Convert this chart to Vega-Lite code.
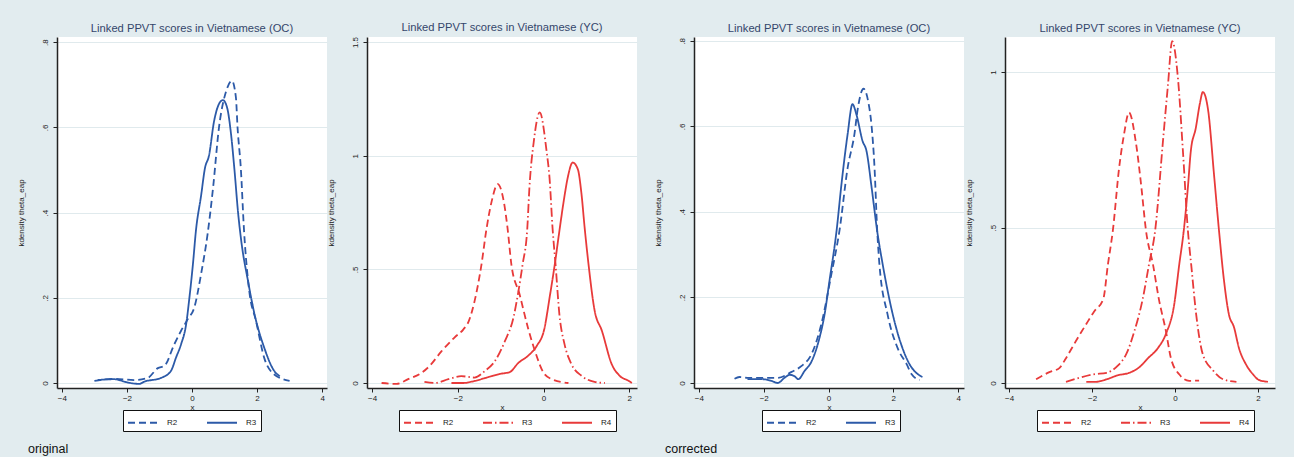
{
  "$schema": "https://vega.github.io/schema/vega-lite/v6.json",
  "background": "#e2ecef",
  "padding": {"left": 17, "top": 22, "right": 20, "bottom": 4},
  "config": {
    "view": {"fill": "white", "stroke": null},
    "font": "Liberation Sans",
    "title": {"font": "Liberation Sans", "fontSize": 11.2, "fontWeight": "normal", "color": "#34466b", "offset": 3},
    "axis": {"labelFont": "Liberation Sans", "titleFont": "Liberation Sans", "labelFontSize": 8, "titleFontSize": 8, "titleFontWeight": "normal", "labelColor": "#222", "titleColor": "#222", "domainColor": "#222", "domainWidth": 1.5, "tickColor": "#222", "tickSize": 4, "tickWidth": 1, "grid": false},
    "axisY": {"grid": true, "gridColor": "#e0eaed", "gridWidth": 1, "labelAngle": -90, "labelAlign": "center", "labelBaseline": "bottom", "labelPadding": 4, "titlePadding": 16},
    "axisX": {"labelPadding": 2, "titlePadding": 1},
    "legend": {"orient": "none", "direction": "horizontal", "title": null, "symbolType": "M-1,0L3,0", "symbolSize": 225, "symbolStrokeWidth": 1.8, "labelFont": "Liberation Sans", "labelFontSize": 8, "labelColor": "#222", "labelOffset": 23, "columnPadding": 25, "padding": 4, "strokeColor": "#111", "fillColor": "white", "labelLimit": 60}
  },
  "datasets": {
    "p1": [
      {"x": -3.0, "y": 0.005, "s": "R2"}, {"x": -2.4, "y": 0.01, "s": "R2"}, {"x": -1.78, "y": 0.007, "s": "R2"}, {"x": -1.36, "y": 0.012, "s": "R2"}, {"x": -1.05, "y": 0.035, "s": "R2"}, {"x": -0.85, "y": 0.04, "s": "R2"}, {"x": -0.55, "y": 0.09, "s": "R2"}, {"x": -0.34, "y": 0.122, "s": "R2"}, {"x": -0.13, "y": 0.15, "s": "R2"}, {"x": 0.07, "y": 0.177, "s": "R2"}, {"x": 0.28, "y": 0.256, "s": "R2"}, {"x": 0.48, "y": 0.35, "s": "R2"}, {"x": 0.65, "y": 0.46, "s": "R2"}, {"x": 0.83, "y": 0.6, "s": "R2"}, {"x": 1.05, "y": 0.685, "s": "R2"}, {"x": 1.23, "y": 0.709, "s": "R2"}, {"x": 1.35, "y": 0.67, "s": "R2"}, {"x": 1.4, "y": 0.6, "s": "R2"}, {"x": 1.5, "y": 0.505, "s": "R2"}, {"x": 1.6, "y": 0.357, "s": "R2"}, {"x": 1.76, "y": 0.216, "s": "R2"}, {"x": 1.97, "y": 0.145, "s": "R2"}, {"x": 2.22, "y": 0.059, "s": "R2"}, {"x": 2.53, "y": 0.02, "s": "R2"}, {"x": 3.0, "y": 0.005, "s": "R2"},
      {"x": -2.9, "y": 0.007, "s": "R3"}, {"x": -2.4, "y": 0.009, "s": "R3"}, {"x": -1.97, "y": 0.001, "s": "R3"}, {"x": -1.62, "y": -0.002, "s": "R3"}, {"x": -1.47, "y": 0.003, "s": "R3"}, {"x": -0.95, "y": 0.012, "s": "R3"}, {"x": -0.65, "y": 0.028, "s": "R3"}, {"x": -0.49, "y": 0.06, "s": "R3"}, {"x": -0.34, "y": 0.09, "s": "R3"}, {"x": -0.18, "y": 0.138, "s": "R3"}, {"x": -0.08, "y": 0.2, "s": "R3"}, {"x": 0.03, "y": 0.28, "s": "R3"}, {"x": 0.12, "y": 0.357, "s": "R3"}, {"x": 0.28, "y": 0.44, "s": "R3"}, {"x": 0.4, "y": 0.505, "s": "R3"}, {"x": 0.52, "y": 0.533, "s": "R3"}, {"x": 0.68, "y": 0.615, "s": "R3"}, {"x": 0.83, "y": 0.655, "s": "R3"}, {"x": 0.95, "y": 0.664, "s": "R3"}, {"x": 1.08, "y": 0.646, "s": "R3"}, {"x": 1.2, "y": 0.584, "s": "R3"}, {"x": 1.3, "y": 0.505, "s": "R3"}, {"x": 1.42, "y": 0.397, "s": "R3"}, {"x": 1.52, "y": 0.33, "s": "R3"}, {"x": 1.72, "y": 0.24, "s": "R3"}, {"x": 1.92, "y": 0.162, "s": "R3"}, {"x": 2.22, "y": 0.083, "s": "R3"}, {"x": 2.53, "y": 0.028, "s": "R3"}, {"x": 2.7, "y": 0.016, "s": "R3"}
    ],
    "p2": [
      {"x": -3.78, "y": 0.0, "s": "R2"}, {"x": -3.43, "y": -0.004, "s": "R2"}, {"x": -3.16, "y": 0.017, "s": "R2"}, {"x": -2.85, "y": 0.044, "s": "R2"}, {"x": -2.66, "y": 0.075, "s": "R2"}, {"x": -2.38, "y": 0.14, "s": "R2"}, {"x": -2.08, "y": 0.2, "s": "R2"}, {"x": -1.87, "y": 0.236, "s": "R2"}, {"x": -1.75, "y": 0.27, "s": "R2"}, {"x": -1.61, "y": 0.36, "s": "R2"}, {"x": -1.45, "y": 0.52, "s": "R2"}, {"x": -1.33, "y": 0.68, "s": "R2"}, {"x": -1.21, "y": 0.8, "s": "R2"}, {"x": -1.07, "y": 0.875, "s": "R2"}, {"x": -0.93, "y": 0.8, "s": "R2"}, {"x": -0.84, "y": 0.68, "s": "R2"}, {"x": -0.75, "y": 0.52, "s": "R2"}, {"x": -0.56, "y": 0.39, "s": "R2"}, {"x": -0.36, "y": 0.24, "s": "R2"}, {"x": -0.2, "y": 0.14, "s": "R2"}, {"x": 0.0, "y": 0.045, "s": "R2"}, {"x": 0.19, "y": 0.017, "s": "R2"}, {"x": 0.58, "y": 0.0, "s": "R2"},
      {"x": -2.78, "y": 0.005, "s": "R3"}, {"x": -2.54, "y": 0.0, "s": "R3"}, {"x": -2.22, "y": 0.017, "s": "R3"}, {"x": -1.92, "y": 0.03, "s": "R3"}, {"x": -1.61, "y": 0.024, "s": "R3"}, {"x": -1.37, "y": 0.053, "s": "R3"}, {"x": -1.14, "y": 0.095, "s": "R3"}, {"x": -0.9, "y": 0.185, "s": "R3"}, {"x": -0.7, "y": 0.29, "s": "R3"}, {"x": -0.59, "y": 0.4, "s": "R3"}, {"x": -0.49, "y": 0.52, "s": "R3"}, {"x": -0.38, "y": 0.68, "s": "R3"}, {"x": -0.33, "y": 0.86, "s": "R3"}, {"x": -0.23, "y": 1.06, "s": "R3"}, {"x": -0.09, "y": 1.19, "s": "R3"}, {"x": 0.07, "y": 1.02, "s": "R3"}, {"x": 0.14, "y": 0.9, "s": "R3"}, {"x": 0.21, "y": 0.68, "s": "R3"}, {"x": 0.28, "y": 0.52, "s": "R3"}, {"x": 0.37, "y": 0.3, "s": "R3"}, {"x": 0.49, "y": 0.17, "s": "R3"}, {"x": 0.65, "y": 0.083, "s": "R3"}, {"x": 0.89, "y": 0.031, "s": "R3"}, {"x": 1.19, "y": 0.005, "s": "R3"}, {"x": 1.43, "y": 0.0, "s": "R3"},
      {"x": -2.15, "y": 0.0, "s": "R4"}, {"x": -1.87, "y": 0.0, "s": "R4"}, {"x": -1.61, "y": 0.009, "s": "R4"}, {"x": -1.29, "y": 0.026, "s": "R4"}, {"x": -1.02, "y": 0.04, "s": "R4"}, {"x": -0.79, "y": 0.048, "s": "R4"}, {"x": -0.59, "y": 0.088, "s": "R4"}, {"x": -0.36, "y": 0.12, "s": "R4"}, {"x": -0.16, "y": 0.163, "s": "R4"}, {"x": 0.02, "y": 0.24, "s": "R4"}, {"x": 0.14, "y": 0.375, "s": "R4"}, {"x": 0.26, "y": 0.52, "s": "R4"}, {"x": 0.37, "y": 0.67, "s": "R4"}, {"x": 0.47, "y": 0.8, "s": "R4"}, {"x": 0.56, "y": 0.9, "s": "R4"}, {"x": 0.68, "y": 0.97, "s": "R4"}, {"x": 0.8, "y": 0.94, "s": "R4"}, {"x": 0.88, "y": 0.84, "s": "R4"}, {"x": 0.96, "y": 0.68, "s": "R4"}, {"x": 1.05, "y": 0.52, "s": "R4"}, {"x": 1.19, "y": 0.32, "s": "R4"}, {"x": 1.36, "y": 0.23, "s": "R4"}, {"x": 1.59, "y": 0.083, "s": "R4"}, {"x": 1.78, "y": 0.031, "s": "R4"}, {"x": 1.99, "y": 0.009, "s": "R4"}, {"x": 2.06, "y": 0.0, "s": "R4"}
    ],
    "p3": [
      {"x": -2.9, "y": 0.01, "s": "R2"}, {"x": -2.75, "y": 0.014, "s": "R2"}, {"x": -2.5, "y": 0.012, "s": "R2"}, {"x": -1.98, "y": 0.012, "s": "R2"}, {"x": -1.57, "y": 0.012, "s": "R2"}, {"x": -1.14, "y": 0.026, "s": "R2"}, {"x": -0.83, "y": 0.04, "s": "R2"}, {"x": -0.52, "y": 0.068, "s": "R2"}, {"x": -0.22, "y": 0.138, "s": "R2"}, {"x": 0.09, "y": 0.255, "s": "R2"}, {"x": 0.34, "y": 0.357, "s": "R2"}, {"x": 0.59, "y": 0.503, "s": "R2"}, {"x": 0.8, "y": 0.582, "s": "R2"}, {"x": 0.9, "y": 0.64, "s": "R2"}, {"x": 1.08, "y": 0.688, "s": "R2"}, {"x": 1.22, "y": 0.66, "s": "R2"}, {"x": 1.33, "y": 0.6, "s": "R2"}, {"x": 1.42, "y": 0.503, "s": "R2"}, {"x": 1.5, "y": 0.36, "s": "R2"}, {"x": 1.57, "y": 0.278, "s": "R2"}, {"x": 1.82, "y": 0.161, "s": "R2"}, {"x": 2.13, "y": 0.082, "s": "R2"}, {"x": 2.41, "y": 0.044, "s": "R2"}, {"x": 2.56, "y": 0.021, "s": "R2"}, {"x": 2.81, "y": 0.007, "s": "R2"},
      {"x": -2.5, "y": 0.009, "s": "R3"}, {"x": -2.07, "y": 0.009, "s": "R3"}, {"x": -1.76, "y": 0.005, "s": "R3"}, {"x": -1.57, "y": 0.0, "s": "R3"}, {"x": -1.36, "y": 0.012, "s": "R3"}, {"x": -1.2, "y": 0.019, "s": "R3"}, {"x": -1.05, "y": 0.016, "s": "R3"}, {"x": -0.93, "y": 0.009, "s": "R3"}, {"x": -0.74, "y": 0.028, "s": "R3"}, {"x": -0.52, "y": 0.051, "s": "R3"}, {"x": -0.28, "y": 0.105, "s": "R3"}, {"x": -0.12, "y": 0.161, "s": "R3"}, {"x": 0.03, "y": 0.239, "s": "R3"}, {"x": 0.25, "y": 0.357, "s": "R3"}, {"x": 0.4, "y": 0.465, "s": "R3"}, {"x": 0.59, "y": 0.582, "s": "R3"}, {"x": 0.74, "y": 0.652, "s": "R3"}, {"x": 0.86, "y": 0.628, "s": "R3"}, {"x": 1.05, "y": 0.566, "s": "R3"}, {"x": 1.17, "y": 0.543, "s": "R3"}, {"x": 1.33, "y": 0.457, "s": "R3"}, {"x": 1.5, "y": 0.356, "s": "R3"}, {"x": 1.67, "y": 0.278, "s": "R3"}, {"x": 1.98, "y": 0.161, "s": "R3"}, {"x": 2.28, "y": 0.082, "s": "R3"}, {"x": 2.5, "y": 0.044, "s": "R3"}, {"x": 2.75, "y": 0.021, "s": "R3"}, {"x": 2.9, "y": 0.014, "s": "R3"}
    ],
    "p4": [
      {"x": -3.35, "y": 0.012, "s": "R2"}, {"x": -3.03, "y": 0.035, "s": "R2"}, {"x": -2.79, "y": 0.048, "s": "R2"}, {"x": -2.63, "y": 0.08, "s": "R2"}, {"x": -2.39, "y": 0.135, "s": "R2"}, {"x": -2.14, "y": 0.19, "s": "R2"}, {"x": -1.95, "y": 0.23, "s": "R2"}, {"x": -1.73, "y": 0.27, "s": "R2"}, {"x": -1.62, "y": 0.38, "s": "R2"}, {"x": -1.5, "y": 0.49, "s": "R2"}, {"x": -1.35, "y": 0.69, "s": "R2"}, {"x": -1.23, "y": 0.8, "s": "R2"}, {"x": -1.11, "y": 0.87, "s": "R2"}, {"x": -0.94, "y": 0.77, "s": "R2"}, {"x": -0.82, "y": 0.64, "s": "R2"}, {"x": -0.7, "y": 0.49, "s": "R2"}, {"x": -0.53, "y": 0.38, "s": "R2"}, {"x": -0.39, "y": 0.27, "s": "R2"}, {"x": -0.22, "y": 0.167, "s": "R2"}, {"x": -0.1, "y": 0.08, "s": "R2"}, {"x": 0.1, "y": 0.028, "s": "R2"}, {"x": 0.34, "y": 0.007, "s": "R2"}, {"x": 0.58, "y": 0.008, "s": "R2"},
      {"x": -2.63, "y": 0.004, "s": "R3"}, {"x": -2.3, "y": 0.017, "s": "R3"}, {"x": -1.97, "y": 0.028, "s": "R3"}, {"x": -1.65, "y": 0.033, "s": "R3"}, {"x": -1.38, "y": 0.056, "s": "R3"}, {"x": -1.18, "y": 0.092, "s": "R3"}, {"x": -0.98, "y": 0.167, "s": "R3"}, {"x": -0.78, "y": 0.27, "s": "R3"}, {"x": -0.63, "y": 0.38, "s": "R3"}, {"x": -0.48, "y": 0.49, "s": "R3"}, {"x": -0.29, "y": 0.78, "s": "R3"}, {"x": -0.17, "y": 0.96, "s": "R3"}, {"x": -0.07, "y": 1.1, "s": "R3"}, {"x": 0.07, "y": 0.98, "s": "R3"}, {"x": 0.19, "y": 0.746, "s": "R3"}, {"x": 0.31, "y": 0.49, "s": "R3"}, {"x": 0.39, "y": 0.38, "s": "R3"}, {"x": 0.51, "y": 0.22, "s": "R3"}, {"x": 0.67, "y": 0.092, "s": "R3"}, {"x": 0.92, "y": 0.04, "s": "R3"}, {"x": 1.16, "y": 0.012, "s": "R3"}, {"x": 1.48, "y": 0.004, "s": "R3"},
      {"x": -2.14, "y": 0.004, "s": "R4"}, {"x": -1.9, "y": 0.004, "s": "R4"}, {"x": -1.65, "y": 0.012, "s": "R4"}, {"x": -1.38, "y": 0.025, "s": "R4"}, {"x": -1.1, "y": 0.033, "s": "R4"}, {"x": -0.86, "y": 0.051, "s": "R4"}, {"x": -0.65, "y": 0.08, "s": "R4"}, {"x": -0.41, "y": 0.113, "s": "R4"}, {"x": -0.22, "y": 0.158, "s": "R4"}, {"x": -0.02, "y": 0.253, "s": "R4"}, {"x": 0.1, "y": 0.38, "s": "R4"}, {"x": 0.21, "y": 0.49, "s": "R4"}, {"x": 0.31, "y": 0.63, "s": "R4"}, {"x": 0.38, "y": 0.746, "s": "R4"}, {"x": 0.5, "y": 0.82, "s": "R4"}, {"x": 0.6, "y": 0.9, "s": "R4"}, {"x": 0.67, "y": 0.936, "s": "R4"}, {"x": 0.8, "y": 0.875, "s": "R4"}, {"x": 0.94, "y": 0.67, "s": "R4"}, {"x": 1.06, "y": 0.49, "s": "R4"}, {"x": 1.18, "y": 0.33, "s": "R4"}, {"x": 1.3, "y": 0.22, "s": "R4"}, {"x": 1.42, "y": 0.18, "s": "R4"}, {"x": 1.54, "y": 0.113, "s": "R4"}, {"x": 1.71, "y": 0.06, "s": "R4"}, {"x": 1.88, "y": 0.028, "s": "R4"}, {"x": 2.02, "y": 0.01, "s": "R4"}, {"x": 2.24, "y": 0.004, "s": "R4"}
    ]
  },
  "spacing": 17,
  "resolve": {"scale": {"strokeDash": "independent"}, "legend": {"strokeDash": "independent"}},
  "hconcat": [
    {
      "title": {"text": "original", "orient": "bottom", "anchor": "start", "fontSize": 12.5, "color": "#111", "offset": 11, "dx": 11},
      "spacing": 0,
      "resolve": {"scale": {"strokeDash": "independent"}, "legend": {"strokeDash": "independent"}},
      "hconcat": [
        {
          "width": 270, "height": 351,
          "title": "Linked PPVT scores in Vietnamese (OC)",
          "data": {"name": "p1"},
          "mark": {"type": "line", "strokeWidth": 1.8, "color": "#2c5aa8", "interpolate": "monotone"},
          "encoding": {
            "x": {"field": "x", "type": "quantitative", "scale": {"domain": [-4.15, 4.15], "nice": false, "zero": false}, "axis": {"values": [-4, -2, 0, 2, 4], "title": "x"}},
            "y": {"field": "y", "type": "quantitative", "scale": {"domain": [-0.0117, 0.812], "nice": false, "zero": false}, "axis": {"values": [0, 0.2, 0.4, 0.6, 0.8], "title": "kdensity theta_eap", "labelExpr": "datum.value > 0 && datum.value < 1 ? substring(toString(datum.value), 1) : toString(datum.value)"}},
            "strokeDash": {"field": "s", "type": "nominal", "scale": {"domain": ["R2", "R3"], "range": [[7, 4], [1, 0]]}, "legend": {"legendX": 66, "legendY": 373}}
          }
        },
        {
          "width": 270, "height": 351,
          "title": "Linked PPVT scores in Vietnamese (YC)",
          "data": {"name": "p2"},
          "mark": {"type": "line", "strokeWidth": 1.8, "color": "#e83a3a", "interpolate": "monotone"},
          "encoding": {
            "x": {"field": "x", "type": "quantitative", "scale": {"domain": [-4.12, 2.18], "nice": false, "zero": false}, "axis": {"values": [-4, -2, 0, 2], "title": "x"}},
            "y": {"field": "y", "type": "quantitative", "scale": {"domain": [-0.022, 1.522], "nice": false, "zero": false}, "axis": {"values": [0, 0.5, 1, 1.5], "title": "kdensity theta_eap", "labelExpr": "datum.value > 0 && datum.value < 1 ? substring(toString(datum.value), 1) : toString(datum.value)"}},
            "strokeDash": {"field": "s", "type": "nominal", "scale": {"domain": ["R2", "R3", "R4"], "range": [[7, 4], [9, 3, 1.5, 3], [1, 0]]}, "legend": {"legendX": 32, "legendY": 373}}
          }
        }
      ]
    },
    {
      "title": {"text": "corrected", "orient": "bottom", "anchor": "start", "fontSize": 12.5, "color": "#111", "offset": 11, "dx": 11},
      "spacing": 1,
      "resolve": {"scale": {"strokeDash": "independent"}, "legend": {"strokeDash": "independent"}},
      "hconcat": [
        {
          "width": 270, "height": 351,
          "title": "Linked PPVT scores in Vietnamese (OC)",
          "data": {"name": "p3"},
          "mark": {"type": "line", "strokeWidth": 1.8, "color": "#2c5aa8", "interpolate": "monotone"},
          "encoding": {
            "x": {"field": "x", "type": "quantitative", "scale": {"domain": [-4.15, 4.18], "nice": false, "zero": false}, "axis": {"values": [-4, -2, 0, 2, 4], "title": "x"}},
            "y": {"field": "y", "type": "quantitative", "scale": {"domain": [-0.0117, 0.809], "nice": false, "zero": false}, "axis": {"values": [0, 0.2, 0.4, 0.6, 0.8], "title": "kdensity theta_eap", "labelExpr": "datum.value > 0 && datum.value < 1 ? substring(toString(datum.value), 1) : toString(datum.value)"}},
            "strokeDash": {"field": "s", "type": "nominal", "scale": {"domain": ["R2", "R3"], "range": [[7, 4], [1, 0]]}, "legend": {"legendX": 68, "legendY": 373}}
          }
        },
        {
          "width": 270, "height": 351,
          "title": "Linked PPVT scores in Vietnamese (YC)",
          "data": {"name": "p4"},
          "mark": {"type": "line", "strokeWidth": 1.8, "color": "#e83a3a", "interpolate": "monotone"},
          "encoding": {
            "x": {"field": "x", "type": "quantitative", "scale": {"domain": [-4.1, 2.41], "nice": false, "zero": false}, "axis": {"values": [-4, -2, 0, 2], "title": "x"}},
            "y": {"field": "y", "type": "quantitative", "scale": {"domain": [-0.016, 1.113], "nice": false, "zero": false}, "axis": {"values": [0, 0.5, 1], "title": "kdensity theta_eap", "labelExpr": "datum.value > 0 && datum.value < 1 ? substring(toString(datum.value), 1) : toString(datum.value)"}},
            "strokeDash": {"field": "s", "type": "nominal", "scale": {"domain": ["R2", "R3", "R4"], "range": [[7, 4], [9, 3, 1.5, 3], [1, 0]]}, "legend": {"legendX": 32, "legendY": 373}}
          }
        }
      ]
    }
  ]
}
